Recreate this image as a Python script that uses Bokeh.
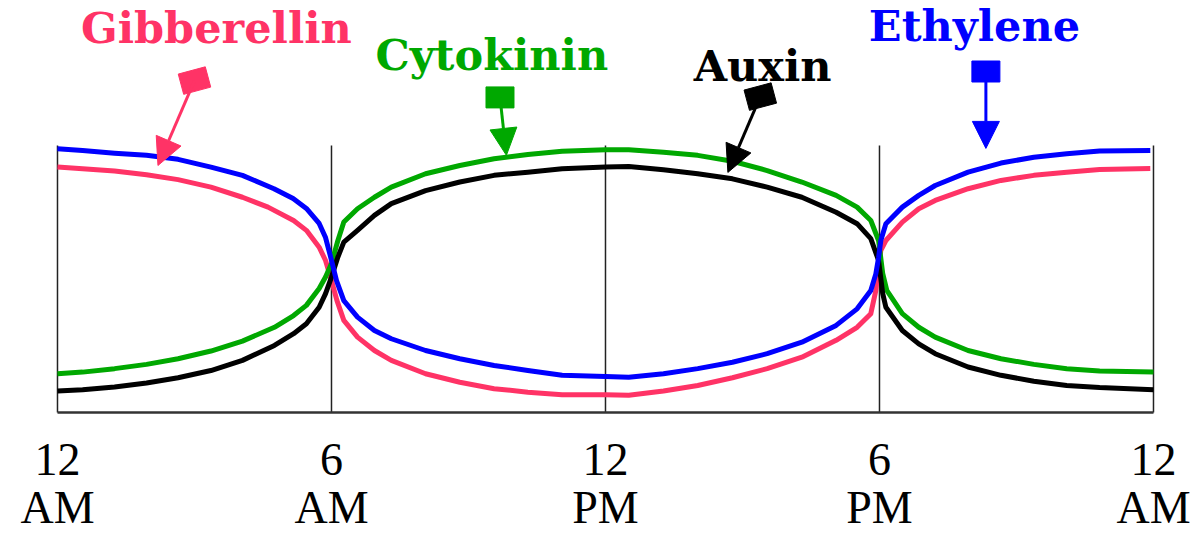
from bokeh.plotting import figure
from bokeh.models import Range1d, FixedTicker, Label, Arrow, NormalHead
from bokeh.embed import file_html
from bokeh.resources import INLINE

# ---- data (hours of the day, relative hormone level 0-100) ----
tick_hours = [0, 6, 12, 18, 24]
tick_labels = ["12\nAM", "6\nAM", "12\nPM", "6\nPM", "12\nAM"]

hormones = ["Gibberellin", "Cytokinin", "Auxin", "Ethylene"]
colors = ["#FF3366", "#00A800", "#000000", "#0000FF"]

eth_h = [0, 0.55, 1.25, 1.95, 2.64, 3.36, 4.05, 4.74, 5.16, 5.45, 5.73, 5.87, 6.0,
         6.11, 6.27, 6.57, 6.94, 7.31, 8.06, 8.81, 9.56, 10.30, 11.05, 12.0,
         12.51, 13.27, 14.02, 14.78, 15.54, 16.30, 17.05, 17.51, 17.81, 17.92, 17.98,
         18.03, 18.14, 18.50, 18.86, 19.22, 19.94, 20.66, 21.38, 22.10, 22.82, 23.93]
eth_v = [98.8, 98.1, 97.1, 96.3, 94.8, 91.9, 88.8, 83.8, 80.1, 76.4, 70.8, 65.5, 57.0,
         49.4, 41.9, 35.7, 30.7, 27.6, 23.2, 20.1, 17.6, 15.7, 13.9, 13.5,
         13.2, 14.5, 16.4, 18.8, 22.0, 26.3, 32.6, 38.8, 45.7, 51.9, 58.0,
         64.5, 70.7, 76.9, 81.3, 85.0, 90.0, 93.4, 95.6, 96.9, 97.9, 98.1]

gib_h = [0, 0.55, 1.25, 1.95, 2.64, 3.36, 4.05, 4.61, 5.17, 5.45, 5.73, 5.87, 6.0,
         6.12, 6.27, 6.57, 6.94, 7.31, 8.06, 8.81, 9.56, 10.30, 11.05, 12.0,
         12.51, 13.27, 14.02, 14.78, 15.54, 16.30, 17.05, 17.51, 17.81, 17.92, 17.98,
         18.03, 18.14, 18.50, 18.86, 19.22, 19.94, 20.66, 21.38, 22.10, 22.82, 23.93]
gib_v = [91.9, 91.3, 90.4, 89.0, 87.2, 84.4, 80.6, 76.9, 71.9, 68.2, 61.9, 56.9, 49.4,
         41.9, 34.5, 28.2, 23.2, 19.5, 14.5, 11.3, 8.9, 7.6, 6.6, 6.6,
         6.4, 8.0, 10.1, 13.0, 16.4, 20.7, 27.0, 31.9, 37.0, 45.7, 54.4,
         60.7, 64.4, 71.3, 76.3, 79.4, 83.8, 86.9, 88.8, 90.0, 91.0, 91.4]

cyt_h = [0, 0.55, 1.25, 1.95, 2.64, 3.36, 4.05, 4.75, 5.17, 5.45, 5.73, 5.87, 6.0,
         6.14, 6.27, 6.57, 6.94, 7.31, 8.06, 8.81, 9.56, 10.30, 11.05, 12.0,
         12.51, 13.27, 14.02, 14.78, 15.54, 16.30, 17.05, 17.51, 17.81, 17.98, 18.07,
         18.16, 18.50, 18.86, 19.22, 19.94, 20.66, 21.38, 22.10, 22.82, 24.0]
cyt_v = [14.5, 15.1, 16.4, 18.0, 20.1, 23.0, 26.7, 31.9, 36.3, 40.1, 46.4, 50.7, 55.8,
         64.4, 71.3, 76.3, 80.6, 84.4, 89.4, 92.5, 95.0, 96.6, 97.8, 98.4,
         98.4, 97.5, 96.3, 94.1, 90.6, 86.3, 81.3, 76.9, 71.9, 64.4, 52.1,
         45.7, 37.0, 31.9, 28.2, 23.2, 20.1, 18.0, 16.4, 15.5, 15.1]

aux_h = [0, 0.55, 1.25, 1.95, 2.64, 3.36, 4.05, 4.75, 5.17, 5.45, 5.73, 5.87, 6.0,
         6.14, 6.27, 6.57, 6.94, 7.31, 8.06, 8.81, 9.56, 10.30, 11.05, 12.0,
         12.51, 13.27, 14.02, 14.78, 15.54, 16.30, 17.05, 17.51, 17.81, 17.98, 18.07,
         18.14, 18.50, 18.86, 19.22, 19.94, 20.66, 21.38, 22.10, 22.82, 24.0]
aux_v = [8.0, 8.5, 9.5, 11.0, 13.0, 15.7, 19.5, 25.1, 29.5, 33.2, 39.4, 44.5, 50.7,
         58.2, 63.8, 68.2, 73.8, 78.2, 83.1, 86.3, 88.8, 90.0, 91.3, 91.9,
         92.1, 90.9, 89.4, 87.5, 84.4, 80.6, 75.0, 70.7, 65.1, 56.9, 44.6,
         39.4, 30.7, 25.7, 22.0, 17.0, 13.9, 11.7, 10.1, 9.3, 8.5]

series_h = [gib_h, cyt_h, aux_h, eth_h]
series_v = [gib_v, cyt_v, aux_v, eth_v]

# ---- figure ----
W, H = 1195, 535
p = figure(width=W, height=H, output_backend="svg", toolbar_location=None,
           x_range=Range1d(-1.248, 24.92), y_range=Range1d(-46.1, 154.3),
           min_border_left=0, min_border_right=0, min_border_top=0,
           min_border_bottom=0)
p.outline_line_color = None
p.grid.visible = False
p.yaxis.visible = False
p.background_fill_color = "white"
p.border_fill_color = "white"

xa = p.xaxis[0]
xa.fixed_location = 0
xa.bounds = (tick_hours[0], tick_hours[-1])
xa.ticker = FixedTicker(ticks=tick_hours)
xa.major_label_overrides = {h: lab for h, lab in zip(tick_hours, tick_labels)}
xa.axis_line_width = 2.5
xa.axis_line_color = "#333333"
xa.major_tick_line_color = None
xa.minor_tick_line_color = None
xa.major_label_text_font = "Liberation Serif"
xa.major_label_text_font_size = "46px"
xa.major_label_text_color = "black"
xa.major_label_text_line_height = 0.93
xa.major_label_standoff = 16

# vertical reference lines
p.segment(x0=tick_hours, y0=[0] * 5, x1=tick_hours, y1=[100] * 5,
          line_color="#222222", line_width=1.5)

# curves
for hh, vv, c in zip(series_h, series_v, colors):
    p.line(hh, vv, line_color=c, line_width=5, line_join="round")

# hormone names
label_pos = [(3.48, 144.1), (9.51, 134.0), (15.44, 129.9), (20.08, 144.9)]
for name, c, (lx, ly) in zip(hormones, colors, label_pos):
    p.add_layout(Label(x=lx, y=ly, text=name, text_color=c,
                       text_font="DejaVu Serif", text_font_style="bold",
                       text_font_size="43px", text_align="center",
                       text_baseline="alphabetic"))

# arrows: (tail square centre, tip, square angle in degrees)
arrow_geo = [((3.0, 124.3), (2.20, 92.5), 15),
             ((9.69, 118.0), (9.83, 96.3), 0),
             ((15.39, 118.3), (14.68, 89.9), 15),
             ((20.33, 127.7), (20.33, 98.9), 0)]
for c, ((sx, sy), (tx, ty), ang) in zip(colors, arrow_geo):
    p.add_layout(Arrow(x_start=sx, y_start=sy, x_end=tx, y_end=ty,
                       line_color=c, line_width=3,
                       end=NormalHead(size=27, fill_color=c, line_color=c)))
    p.rect(x=[sx], y=[sy], width=28, height=21, width_units="screen",
           height_units="screen", angle=ang, angle_units="deg",
           fill_color=c, line_color=c)

open("out.html", "w").write(file_html(p, INLINE))
